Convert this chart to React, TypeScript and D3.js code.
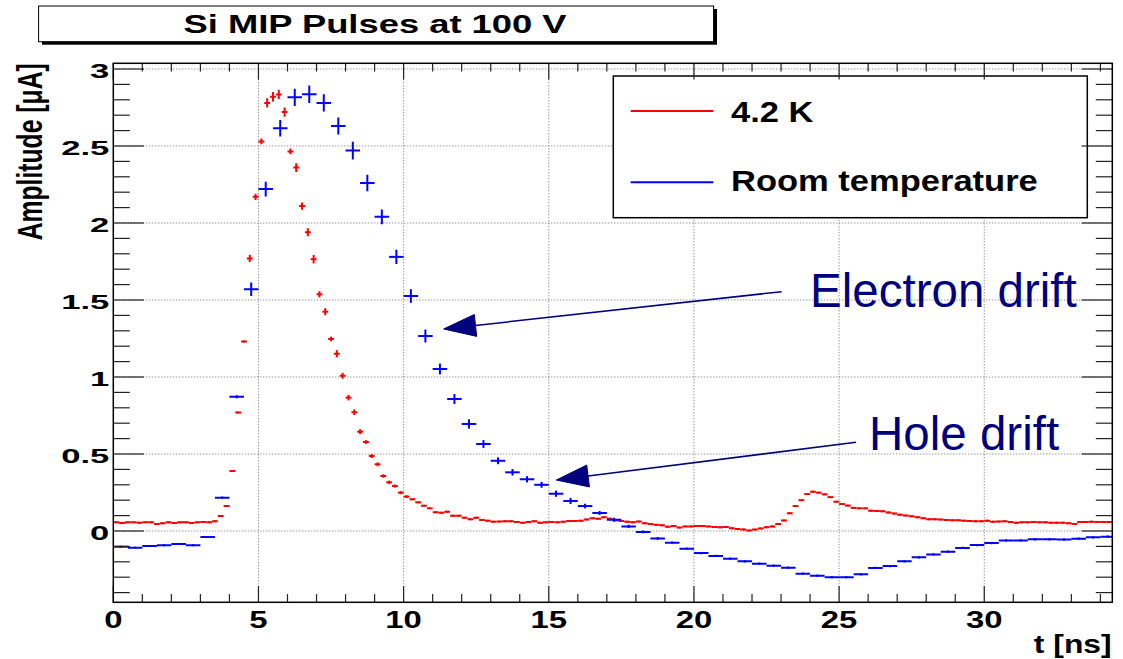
import React from 'react';
import * as d3 from 'd3';

// ---------- data ----------
const redBinWidth = 0.2; // ns, bins [k*0.2, (k+1)*0.2]
const blueBinWidth = 0.5; // ns, bins [k*0.5, (k+1)*0.5]

const redValues = [
  0.056, 0.052, 0.056, 0.056, 0.054, 0.056, 0.056, 0.046, 0.05, 0.056,
  0.052, 0.056, 0.056, 0.052, 0.056, 0.058, 0.056, 0.063, 0.097, 0.162,
  0.39, 0.77, 1.23, 1.77, 2.17, 2.53, 2.78, 2.82, 2.835, 2.72,
  2.465, 2.36, 2.11, 1.94, 1.765, 1.537, 1.424, 1.247, 1.151, 1.008,
  0.866, 0.771, 0.645, 0.578, 0.487, 0.433, 0.357, 0.316, 0.292, 0.249,
  0.223, 0.206, 0.186, 0.164, 0.147, 0.122, 0.119, 0.125, 0.099, 0.099,
  0.086, 0.076, 0.086, 0.071, 0.067, 0.06, 0.061, 0.063, 0.063, 0.058,
  0.054, 0.058, 0.063, 0.054, 0.056, 0.058, 0.056, 0.06, 0.065, 0.065,
  0.067, 0.075, 0.082, 0.08, 0.089, 0.08, 0.069, 0.065, 0.06, 0.056,
  0.061, 0.05, 0.045, 0.04, 0.037, 0.028, 0.032, 0.022, 0.03, 0.03,
  0.032, 0.032, 0.03, 0.026, 0.024, 0.026, 0.018, 0.013, 0.01, 0.004,
  0.009, 0.017, 0.024, 0.03, 0.045, 0.068, 0.115, 0.162, 0.2, 0.24,
  0.255, 0.249, 0.238, 0.22, 0.19, 0.175, 0.165, 0.15, 0.147, 0.147,
  0.132, 0.13, 0.128, 0.12, 0.113, 0.106, 0.1, 0.095, 0.089, 0.082,
  0.076, 0.076, 0.074, 0.071, 0.07, 0.069, 0.066, 0.065, 0.063, 0.063,
  0.067, 0.06, 0.061, 0.063, 0.058, 0.054, 0.056, 0.056, 0.058, 0.056,
  0.056, 0.054, 0.054, 0.054, 0.05, 0.046, 0.058, 0.058, 0.06, 0.058,
  0.058, 0.058,
];

const redErrors = [
  0.003, 0.003, 0.003, 0.003, 0.003, 0.003, 0.003, 0.003, 0.003, 0.003,
  0.003, 0.003, 0.003, 0.003, 0.003, 0.003, 0.003, 0.003, 0.003, 0.003,
  0.003, 0.003, 0.003, 0.02, 0.017, 0.016, 0.027, 0.027, 0.027, 0.027,
  0.016, 0.025, 0.02, 0.023, 0.024, 0.017, 0.02, 0.012, 0.02, 0.016,
  0.015, 0.015, 0.013, 0.009, 0.01, 0.009, 0.008, 0.008, 0.007, 0.007,
  0.006, 0.003, 0.003, 0.003, 0.003, 0.003, 0.003, 0.003, 0.003, 0.003,
  0.003, 0.003, 0.003, 0.003, 0.003, 0.003, 0.003, 0.003, 0.003, 0.003,
  0.003, 0.003, 0.003, 0.003, 0.003, 0.003, 0.003, 0.003, 0.003, 0.003,
  0.003, 0.003, 0.003, 0.003, 0.003, 0.003, 0.003, 0.003, 0.003, 0.003,
  0.003, 0.003, 0.003, 0.003, 0.003, 0.003, 0.003, 0.003, 0.003, 0.003,
  0.003, 0.003, 0.003, 0.003, 0.003, 0.003, 0.003, 0.003, 0.003, 0.003,
  0.003, 0.003, 0.003, 0.003, 0.003, 0.003, 0.003, 0.003, 0.003, 0.003,
  0.003, 0.003, 0.003, 0.003, 0.003, 0.003, 0.003, 0.003, 0.003, 0.003,
  0.003, 0.003, 0.003, 0.003, 0.003, 0.003, 0.003, 0.003, 0.003, 0.003,
  0.003, 0.003, 0.003, 0.003, 0.003, 0.003, 0.003, 0.003, 0.003, 0.003,
  0.003, 0.003, 0.003, 0.003, 0.003, 0.003, 0.003, 0.003, 0.003, 0.003,
  0.003, 0.003, 0.003, 0.003, 0.003, 0.003, 0.003, 0.003, 0.003, 0.003,
  0.003, 0.003,
];

const blueValues = [
  -0.102, -0.108, -0.097, -0.093, -0.084, -0.093, -0.039, 0.216, 0.872, 1.57,
  2.22, 2.615, 2.816, 2.836, 2.78, 2.63, 2.47, 2.26, 2.04, 1.78,
  1.526, 1.266, 1.052, 0.857, 0.695, 0.565, 0.456, 0.381, 0.336, 0.3,
  0.242, 0.195, 0.162, 0.117, 0.073, 0.03, -0.006, -0.048, -0.076, -0.115,
  -0.143, -0.162, -0.18, -0.197, -0.212, -0.225, -0.238, -0.277, -0.29, -0.3,
  -0.3, -0.281, -0.24, -0.228, -0.197, -0.171, -0.152, -0.134, -0.11, -0.091,
  -0.078, -0.061, -0.061, -0.054, -0.054, -0.056, -0.05, -0.041, -0.037,
];

const blueErrors = [
  0.003, 0.003, 0.003, 0.003, 0.003, 0.003, 0.003, 0.004, 0.006, 0.04,
  0.045, 0.05, 0.053, 0.054, 0.052, 0.052, 0.054, 0.05, 0.045, 0.043,
  0.041, 0.039, 0.032, 0.029, 0.027, 0.022, 0.019, 0.018, 0.017, 0.016,
  0.017, 0.017, 0.012, 0.01, 0.01, 0.008, 0.006, 0.006, 0.004, 0.004,
  0.004, 0.004, 0.004, 0.004, 0.004, 0.004, 0.004, 0.004, 0.004, 0.004,
  0.004, 0.004, 0.004, 0.004, 0.004, 0.004, 0.004, 0.004, 0.004, 0.004,
  0.004, 0.004, 0.004, 0.004, 0.004, 0.004, 0.004, 0.004, 0.004,
];

const xTickLabels = ['0', '5', '10', '15', '20', '25', '30'];
const xTickValues = [0, 5, 10, 15, 20, 25, 30];
const yTickLabels = ['0', '0.5', '1', '1.5', '2', '2.5', '3'];
const yTickValues = [0, 0.5, 1, 1.5, 2, 2.5, 3];

const seriesNames = ['4.2 K', 'Room temperature'];
const seriesColors = ['#ff0000', '#0000ff'];

const titleText = 'Si MIP Pulses at 100 V';
const xTitle = 't [ns]';
const yTitle = 'Amplitude [\u03bcA]';

// annotations in data coordinates: [textX, textY, tailX, tailY, tipX, tipY]
const annotationTexts = ['Electron drift', 'Hole drift'];
const annotationGeom = [
  [24.0, 1.453, 23.02, 1.554, 11.38, 1.312],
  [26.03, 0.526, 25.58, 0.576, 15.26, 0.331],
];

const FONT = "'Liberation Sans', Arial, Helvetica, sans-serif";
const NAVY = '#00007f';

function SText(props: any) {
  const { x, y, sx = 1, sy = 1, anchor = 'start', size, weight = 'bold', fill = '#000', rotate = 0, children } = props;
  return (
    <text
      transform={`translate(${x},${y}) rotate(${rotate}) scale(${sx},${sy})`}
      textAnchor={anchor}
      fontSize={size}
      fontWeight={weight}
      fontFamily={FONT}
      fill={fill}
    >
      {children}
    </text>
  );
}

export default function App() {
  const W = 1123;
  const H = 659;
  const left = 113.3, right = 1112.3, top = 63.3, bottom = 602.3;
  const x = d3.scaleLinear().domain([0, 34.41]).range([left, right]);
  const y = d3.scaleLinear().domain([-0.463, 3.037]).range([bottom, top]);

  const xMinor = d3.range(0, 35, 1);
  const yMinor = d3.range(-4, 31, 1).map((v) => v / 10);

  const series = [
    { values: redValues, errors: redErrors, bw: redBinWidth, color: seriesColors[0] },
    { values: blueValues, errors: blueErrors, bw: blueBinWidth, color: seriesColors[1] },
  ];

  const arrowHead = (tx: number, ty: number, fx: number, fy: number) => {
    const dx = tx - fx, dy = ty - fy;
    const L = Math.hypot(dx, dy);
    const ux = dx / L, uy = dy / L;
    const len = 32, hw = 11;
    const bx = tx - ux * len, by = ty - uy * len;
    return {
      pts: `${tx},${ty} ${bx - uy * hw},${by + ux * hw} ${bx + uy * hw},${by - ux * hw}`,
      bx, by,
    };
  };

  return (
    <svg width={W} height={H} style={{ position: 'absolute', left: 0, top: 0, background: '#fff' }}>
      <defs>
        <clipPath id="frameClip">
          <rect x={left} y={top} width={right - left} height={bottom - top} />
        </clipPath>
      </defs>
      <rect x={0} y={0} width={W} height={H} fill="#fff" />

      {/* Title box */}
      <rect x={42} y={9} width={675} height={35.7} fill="#000" />
      <rect x={38.6} y={6} width={675} height={35.7} fill="#fff" stroke="#000" strokeWidth={1} />
      <SText x={375} y={33.3} sx={1.42} anchor="middle" size={25.6}>{titleText}</SText>

      {/* grid */}
      <g stroke="#6a6a6a" strokeWidth={1} strokeDasharray="1 2">
        {xTickValues.filter((v) => v > 0).map((v) => (
          <line key={'gx' + v} x1={x(v)} x2={x(v)} y1={bottom} y2={top} />
        ))}
        {yTickValues.map((v) => (
          <line key={'gy' + v} x1={left} x2={right} y1={y(v)} y2={y(v)} />
        ))}
      </g>

      {/* data */}
      <g clipPath="url(#frameClip)" strokeWidth={2} fill="none">
        {series.map((s, si) => (
          <g key={si} stroke={s.color}>
            {s.values.map((v, i) => {
              const lo = i * s.bw, hi = (i + 1) * s.bw, c = (lo + hi) / 2;
              const e = s.errors[i];
              return (
                <g key={i}>
                  <line x1={x(lo)} x2={x(hi)} y1={y(v)} y2={y(v)} />
                  <line x1={x(c)} x2={x(c)} y1={y(v - e) + 0.5} y2={y(v + e) - 0.5} />
                </g>
              );
            })}
          </g>
        ))}
      </g>

      {/* legend */}
      <rect x={613.3} y={76} width={474} height={141.7} fill="#fff" stroke="#000" strokeWidth={1.5} />
      {seriesNames.map((name, i) => {
        const ly = [111, 182.3][i];
        const ty = [122.3, 191][i];
        return (
          <g key={name}>
            <line x1={630.7} x2={713.3} y1={ly} y2={ly} stroke={seriesColors[i]} strokeWidth={2} />
            <SText x={731} y={ty} sx={1.17} size={29.5}>{name}</SText>
          </g>
        );
      })}

      {/* annotations */}
      {annotationTexts.map((t, i) => {
        const g = annotationGeom[i];
        const tx = x(g[4]), ty = y(g[5]);
        const fx = x(g[2]), fy = y(g[3]);
        const ah = arrowHead(tx, ty, fx, fy);
        return (
          <g key={t}>
            <line x1={fx} y1={fy} x2={ah.bx} y2={ah.by} stroke={NAVY} strokeWidth={1.5} />
            <polygon points={ah.pts} fill={NAVY} stroke={NAVY} strokeWidth={1} />
            <SText x={x(g[0])} y={y(g[1])} size={47.5} weight="normal" fill={NAVY}>{t}</SText>
          </g>
        );
      })}

      {/* ticks */}
      <g stroke="#222" strokeWidth={1.2}>
        {xMinor.filter((v) => x(v) <= right).map((v) => {
          const major = v % 5 === 0;
          const L = major ? 16.3 : 8.2;
          return (
            <g key={'tx' + v}>
              <line x1={x(v)} x2={x(v)} y1={bottom} y2={bottom - L} />
              <line x1={x(v)} x2={x(v)} y1={top} y2={top + L} />
            </g>
          );
        })}
        {yMinor.map((v) => {
          const major = Math.abs(Math.round(v * 2) - v * 2) < 1e-6;
          const L = major ? 30.7 : 16.5;
          return (
            <g key={'ty' + v}>
              <line x1={left} x2={left + L} y1={y(v)} y2={y(v)} />
              <line x1={right} x2={right - L} y1={y(v)} y2={y(v)} />
            </g>
          );
        })}
      </g>

      {/* frame */}
      <rect x={left} y={top} width={right - left} height={bottom - top} fill="none" stroke="#000" strokeWidth={1.5} />

      {/* tick labels */}
      {xTickValues.map((v, i) => (
        <SText key={'xl' + v} x={x(v)} y={627.7} sx={1.33} anchor="middle" size={24.7}>{xTickLabels[i]}</SText>
      ))}
      {yTickValues.map((v, i) => (
        <SText key={'yl' + v} x={109.3} y={y(v) + 9} sx={1.65} anchor="end" size={21}>{yTickLabels[i]}</SText>
      ))}

      {/* axis titles */}
      <SText x={1111.7} y={653.3} sx={1.24} anchor="end" size={25.7}>{xTitle}</SText>
      <SText x={41.7} y={63.3} rotate={-90} sx={1} sy={1.41} anchor="end" size={24.7}>{yTitle}</SText>
    </svg>
  );
}
